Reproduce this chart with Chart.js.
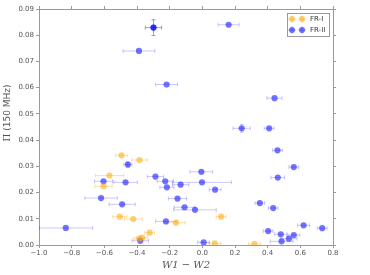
<!DOCTYPE html>
<html>
<head>
<meta charset="utf-8">
<script src="https://cdn.jsdelivr.net/npm/chart.js@4/dist/chart.umd.min.js"></script>
<style>
  html, body { margin: 0; padding: 0; background: #fff; }
  #wrap { width: 370px; height: 275px; }
</style>
</head>
<body>
<div id="wrap"><canvas id="c"></canvas></div>
<script>
/* ---- data ---- */
const frIx    = [-0.495, -0.385, -0.569, -0.605, -0.505, -0.423, -0.161, 0.115, -0.323, -0.370, -0.385, 0.076, 0.319];
const frIy    = [0.0342, 0.0324, 0.0265, 0.0224, 0.0108, 0.0099, 0.0085, 0.0108, 0.0047, 0.0028, 0.0024, 0.0006, 0.0004];
const frIxErr = [0.035, 0.048, 0.087, 0.053, 0.043, 0.055, 0.056, 0.030, 0.030, 0.035, 0.035, 0.036, 0.036];

const frIIx    = [-0.299, -0.299, 0.161, -0.388, -0.219, 0.442, 0.241, 0.409, 0.460, 0.560, 0.462, -0.006, -0.002,
                  0.078, 0.352, 0.434, 0.620, 0.734, 0.403, 0.480, 0.560, 0.530, 0.485, 0.008, -0.456, -0.287,
                  -0.605, -0.470, -0.227, -0.133, -0.217, -0.620, -0.491, -0.152, -0.109, -0.045, -0.223, -0.380, -0.836];
const frIIy    = [0.0829, 0.0829, 0.0840, 0.0740, 0.0612, 0.0560, 0.0445, 0.0445, 0.0361, 0.0297, 0.0257, 0.0279, 0.0239,
                  0.0211, 0.0160, 0.0141, 0.0075, 0.0064, 0.0053, 0.0041, 0.0038, 0.0024, 0.0014, 0.0010, 0.0307, 0.0261,
                  0.0243, 0.0239, 0.0243, 0.0230, 0.0220, 0.0179, 0.0155, 0.0177, 0.0144, 0.0134, 0.0090, 0.0016, 0.0065];
const frIIxErr = [0.050, 0.050, 0.064, 0.097, 0.067, 0.046, 0.053, 0.030, 0.030, 0.030, 0.042, 0.070, 0.180,
                  0.036, 0.030, 0.030, 0.037, 0.030, 0.030, 0.037, 0.037, 0.050, 0.070, 0.036, 0.025, 0.050,
                  0.055, 0.072, 0.050, 0.050, 0.043, 0.099, 0.080, 0.056, 0.064, 0.130, 0.063, 0.050, 0.164];
const frIIyErr = [0.003, 0.003, 0, 0, 0, 0, 0.0015, 0, 0, 0, 0, 0, 0,
                  0, 0, 0, 0, 0, 0, 0, 0, 0, 0, 0, 0.001, 0,
                  0, 0, 0, 0, 0, 0, 0, 0, 0, 0, 0, 0, 0];

const xTicks = [-1.0, -0.8, -0.6, -0.4, -0.2, 0.0, 0.2, 0.4, 0.6, 0.8];
const yTicks = [0.00, 0.01, 0.02, 0.03, 0.04, 0.05, 0.06, 0.07, 0.08, 0.09];

const BLUE   = "rgba(0,0,255,0.55)";
const BLUE_E = "rgba(0,0,255,0.22)";
const ORNG   = "rgba(255,165,0,0.55)";
const ORNG_E = "rgba(255,165,0,0.35)";
const AXIS   = "#9a9a9a";
const TXT    = "#555";

const toPts = (xs, ys) => xs.map((x, i) => ({ x, y: ys[i] }));

/* error bars drawn under the markers, through the chart's own scales */
const errorBars = {
  id: "errorBars",
  beforeDatasetsDraw(chart) {
    const { ctx, chartArea: a, scales: { x, y } } = chart;
    ctx.save();
    ctx.beginPath();
    ctx.rect(a.left, a.top, a.right - a.left, a.bottom - a.top);
    ctx.clip();
    ctx.lineWidth = 1;
    chart.data.datasets.forEach(ds => {
      ctx.strokeStyle = ds.errColor;
      ds.data.forEach((p, i) => {
        const px = x.getPixelForValue(p.x), py = y.getPixelForValue(p.y);
        const ex = ds.xErr[i] || 0, ey = (ds.yErr && ds.yErr[i]) || 0;
        if (ex) {
          const l = x.getPixelForValue(p.x - ex), r = x.getPixelForValue(p.x + ex);
          ctx.beginPath();
          ctx.moveTo(l, py); ctx.lineTo(r, py);
          ctx.moveTo(l, py - 2); ctx.lineTo(l, py + 2);
          ctx.moveTo(r, py - 2); ctx.lineTo(r, py + 2);
          ctx.stroke();
        }
        if (ey) {
          const t = y.getPixelForValue(p.y + ey), b = y.getPixelForValue(p.y - ey);
          ctx.beginPath();
          ctx.moveTo(px, t); ctx.lineTo(px, b);
          ctx.moveTo(px - 2, t); ctx.lineTo(px + 2, t);
          ctx.moveTo(px - 2, b); ctx.lineTo(px + 2, b);
          ctx.stroke();
        }
      });
    });
    ctx.restore();
  }
};

/* matplotlib-style legend box in the upper right corner */
const boxLegend = {
  id: "boxLegend",
  afterDatasetsDraw(chart) {
    const { ctx, chartArea: a } = chart;
    const bx = a.right - 46, by = a.top + 4, bw = 42, bh = 23;
    ctx.save();
    ctx.fillStyle = "#fff";
    ctx.fillRect(bx, by, bw, bh);
    ctx.strokeStyle = "#999";
    ctx.lineWidth = 1;
    ctx.strokeRect(bx + 0.5, by + 0.5, bw, bh);
    chart.data.datasets.forEach((ds, k) => {
      const cy = by + 6 + k * 11;
      [bx + 5, bx + 15].forEach(cx => {
        ctx.strokeStyle = ds.errColor;
        ctx.beginPath();
        ctx.moveTo(cx - 4, cy); ctx.lineTo(cx + 4, cy);
        ctx.moveTo(cx, cy - 4); ctx.lineTo(cx, cy + 4);
        ctx.stroke();
        ctx.fillStyle = ds.backgroundColor;
        ctx.beginPath();
        ctx.arc(cx, cy, 3, 0, Math.PI * 2);
        ctx.fill();
      });
      ctx.fillStyle = "#333";
      ctx.font = "7px 'DejaVu Sans'";
      ctx.textBaseline = "middle";
      ctx.fillText(ds.label, bx + 23, cy + 0.5);
    });
    ctx.restore();
  }
};

/* y label: serif Pi followed by sans text, as in the reference */
const yLabel = {
  id: "yLabel",
  afterDraw(chart) {
    const { ctx } = chart;
    const pi = "\u03A0", rest = " (150 MHz)";
    ctx.save();
    ctx.translate(7.5, 113);
    ctx.rotate(-Math.PI / 2);
    ctx.fillStyle = TXT;
    ctx.textBaseline = "middle";
    ctx.font = "9px 'DejaVu Serif'";
    const wPi = ctx.measureText(pi).width;
    ctx.font = "9px 'DejaVu Sans'";
    const wRest = ctx.measureText(rest).width;
    const x0 = -(wPi + wRest) / 2;
    ctx.font = "9px 'DejaVu Serif'";
    ctx.fillText(pi, x0, 0);
    ctx.font = "9px 'DejaVu Sans'";
    ctx.fillText(rest, x0 + wPi, 0);
    ctx.restore();
  }
};

const fmtX = v => Math.abs(v) < 1e-9 ? "0.0" : (v < 0 ? "\u2212" : "") + Math.abs(v).toFixed(1);

const baseGrid = { display: true, drawOnChartArea: false, drawTicks: true, tickLength: 3, color: AXIS };
const baseBorder = { display: true, color: AXIS, width: 1 };
const tickFont = { family: "DejaVu Sans", size: 7 };

new Chart(document.getElementById("c"), {
  type: "scatter",
  data: {
    datasets: [
      { label: "FR-I", data: toPts(frIx, frIy), xErr: frIxErr, errColor: ORNG_E,
        backgroundColor: ORNG, borderWidth: 0, pointRadius: 3.1 },
      { label: "FR-II", data: toPts(frIIx, frIIy), xErr: frIIxErr, yErr: frIIyErr, errColor: BLUE_E,
        backgroundColor: BLUE, borderWidth: 0, pointRadius: 3.1 },
    ],
  },
  options: {
    responsive: true,
    maintainAspectRatio: false,
    animation: false,
    layout: { padding: 0 },
    plugins: { legend: { display: false }, tooltip: { enabled: false } },
    scales: {
      x: {
        type: "linear", position: "bottom", min: xTicks[0], max: xTicks[xTicks.length - 1],
        afterBuildTicks: s => { s.ticks = xTicks.map(v => ({ value: v })); },
        ticks: { font: tickFont, color: TXT, padding: 1, maxRotation: 0, callback: fmtX },
        grid: baseGrid, border: baseBorder,
        title: { display: true, text: "W1 \u2212 W2", color: TXT,
                 font: { family: "DejaVu Serif", style: "italic", size: 10 }, padding: { top: 0, bottom: 4 } },
        afterFit: s => { s.height = 30; },
      },
      y: {
        type: "linear", position: "left", min: yTicks[0], max: yTicks[yTicks.length - 1],
        afterBuildTicks: s => { s.ticks = yTicks.map(v => ({ value: v })); },
        ticks: { font: tickFont, color: TXT, padding: 2, callback: v => v.toFixed(2) },
        grid: baseGrid, border: baseBorder,
        afterFit: s => { s.width = 39; },
      },
      x2: {
        type: "linear", position: "top", min: xTicks[0], max: xTicks[xTicks.length - 1],
        afterBuildTicks: s => { s.ticks = xTicks.map(v => ({ value: v })); },
        ticks: { display: false }, grid: baseGrid, border: baseBorder,
        afterFit: s => { s.height = 9; },
      },
      y2: {
        type: "linear", position: "right", min: yTicks[0], max: yTicks[yTicks.length - 1],
        afterBuildTicks: s => { s.ticks = yTicks.map(v => ({ value: v })); },
        ticks: { display: false }, grid: baseGrid, border: baseBorder,
        afterFit: s => { s.width = 37; },
      },
    },
  },
  plugins: [errorBars, boxLegend, yLabel],
});
</script>
</body>
</html>
